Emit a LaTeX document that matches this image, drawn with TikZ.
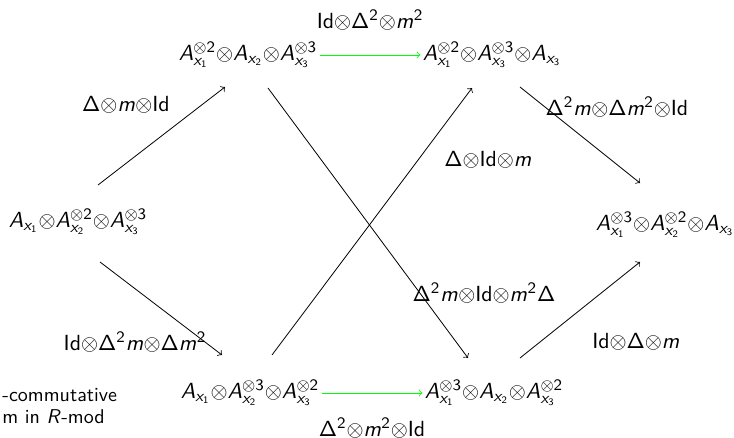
\documentclass[tikz,border=0pt]{standalone}
\usetikzlibrary{calc}
\SetSymbolFont{operators}{normal}{OT1}{cmss}{m}{n}
\DeclareSymbolFont{sfletters}{OT1}{cmss}{m}{sl}
\DeclareMathSymbol{A}{\mathalpha}{sfletters}{`A}
\DeclareMathSymbol{x}{\mathalpha}{sfletters}{`x}
\DeclareMathSymbol{m}{\mathalpha}{sfletters}{`m}
\DeclareMathSymbol{R}{\mathalpha}{sfletters}{`R}
\newcommand{\ot}{\mathord{\otimes}}
\newcommand{\Idn}{\mathrm{Id}}
\begin{document}
\begin{tikzpicture}[x=0.5pt,y=-0.5pt,
  every node/.style={font=\sffamily, inner sep=1pt},
  obj/.style={font=\sffamily\fontsize{11}{13}\selectfont},
  lbl/.style={font=\sffamily\fontsize{11}{13}\selectfont},
  captxt/.style={font=\sffamily, anchor=west},
  arr/.style={->, black},
  garr/.style={->, green}]
\useasboundingbox (0,0) rectangle (734,438);
% objects
\node[obj] (L)  at (78,222)  {$A_{x_1}\ot A_{x_2}^{\ot 2}\ot A_{x_3}^{\ot 3}$};
\node[obj] (TL) at (248,55)  {$A_{x_1}^{\ot 2}\ot A_{x_2}\ot A_{x_3}^{\ot 3}$};
\node[obj] (TR) at (492,55)  {$A_{x_1}^{\ot 2}\ot A_{x_3}^{\ot 3}\ot A_{x_3}$};
\node[obj] (R)  at (665,225) {$A_{x_1}^{\ot 3}\ot A_{x_2}^{\ot 2}\ot A_{x_3}$};
\node[obj] (BL) at (250,393) {$A_{x_1}\ot A_{x_2}^{\ot 3}\ot A_{x_3}^{\ot 2}$};
\node[obj] (BR) at (494,393) {$A_{x_1}^{\ot 3}\ot A_{x_2}\ot A_{x_3}^{\ot 2}$};
% caption (cut off at the left edge)
\node[captxt] (c1) at (0,395) {-commutative};
\node[captxt] (c2) at (0,417) {m in $R$-mod};
% labels
\node[lbl] (l1) at (370,20)  {$\Idn\ot\Delta^2\ot m^2$};
\node[lbl] (l2) at (126,105) {$\Delta\ot m\ot\Idn$};
\node[lbl] (l3) at (617,107) {$\Delta^2 m\ot\Delta m^2\ot\Idn$};
\node[lbl] (l4) at (488,160) {$\Delta\ot\Idn\ot m$};
\node[lbl] (l5) at (484,293) {$\Delta^2 m\ot\Idn\ot m^2\Delta$};
\node[lbl] (l6) at (135,342) {$\Idn\ot\Delta^2 m\ot\Delta m^2$};
\node[lbl] (l7) at (636,342) {$\Idn\ot\Delta\ot m$};
\node[lbl] (l8) at (372,428) {$\Delta^2\ot m^2\ot\Idn$};
% arrows
\draw[arr] ($(L)+(20,-37)$) -- ($(TL)+(-23,32)$);
\draw[arr] ($(L)+(22,40)$) -- ($(BL)+(-28,-38)$);
\draw[arr] ($(TL)+(20,33)$) -- ($(BR)+(-26,-35)$);
\draw[arr] ($(BL)+(22,-38)$) -- ($(TR)+(-20,33)$);
\draw[arr] ($(TR)+(28,32)$) -- ($(R)+(-25,-42)$);
\draw[arr] ($(BR)+(26,-35)$) -- ($(R)+(-25,37)$);
\draw[garr] (TL.east) -- (TR.west);
\draw[garr] (BL.east) -- (BR.west);
\end{tikzpicture}
\end{document}
